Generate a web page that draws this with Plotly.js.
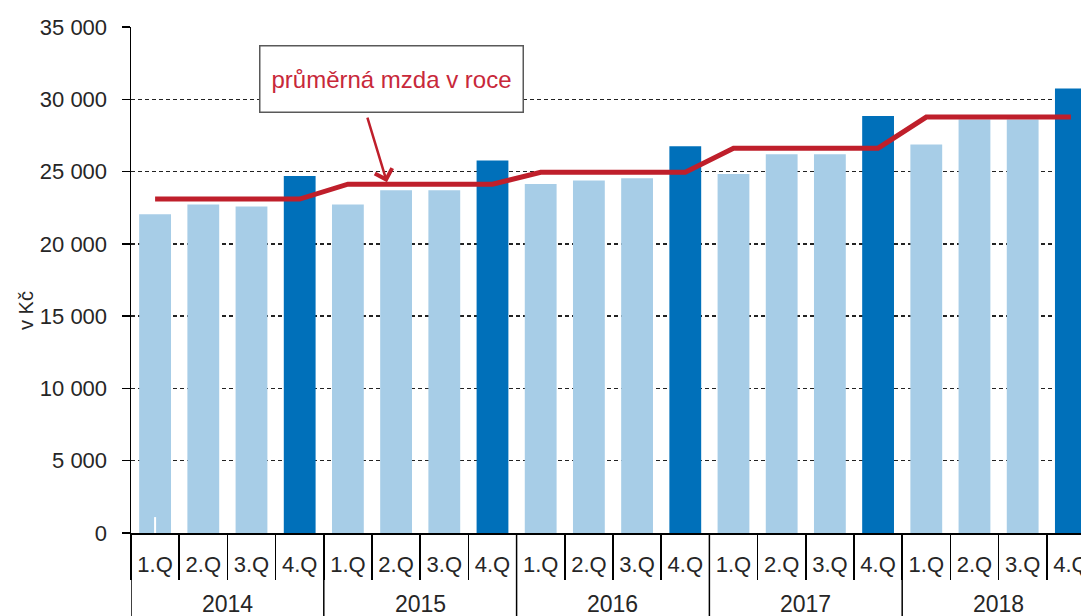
<!DOCTYPE html>
<html>
<head>
<meta charset="utf-8">
<script src="https://cdn.plot.ly/plotly-3.0.1.min.js"></script>
<style>html,body{margin:0;padding:0;background:#fff;}#chart{width:1081px;height:616px;}</style>
</head>
<body>
<div id="chart"></div>
<script>
// ---- data ----
const years = ["2014", "2015", "2016", "2017", "2018"];
const quarters = ["1.Q", "2.Q", "3.Q", "4.Q"];
const wage2014 = [22040, 22730, 22590, 24690];
const wage2015 = [22730, 23700, 23700, 25770];
const wage2016 = [24140, 24390, 24530, 26760];
const wage2017 = [24830, 26190, 26190, 28840];
const wage2018 = [26880, 28600, 28600, 30750];
const annualAvg = [23100, 24130, 24950, 26620, 28770];
const lineLabel = "průměrná mzda v roce";
const yTitle = "v Kč";

// ---- build ----
const quarterly = [wage2014, wage2015, wage2016, wage2017, wage2018];
const keys = [], qText = [], vals = [], colors = [], avgLine = [];
years.forEach((y, yi) => {
  quarters.forEach((q, qi) => {
    keys.push(y + " " + q);
    qText.push(q);
    vals.push(quarterly[yi][qi]);
    colors.push(qi === 3 ? "#0070BA" : "#A7CDE7");
    avgLine.push(annualAvg[yi]);
  });
});

const FONT = "Liberation Sans, Arial, sans-serif";
const TXT = "#262626";
const bottomPaper = -83 / 506;

const traces = [
  {
    type: "bar", x: keys, y: vals, width: 0.66,
    marker: {color: colors, line: {width: 0}},
    hoverinfo: "x+y", showlegend: false
  },
  {
    type: "scatter", mode: "lines", x: keys, y: avgLine,
    line: {color: "#BF1F2B", width: 5},
    showlegend: false
  }
];

const shapes = [];
for (let i = 0; i <= years.length; i++) {
  shapes.push({type: "line", xref: "x", yref: "paper",
    x0: i * 4 - 0.5, x1: i * 4 - 0.5, y0: 0, y1: bottomPaper,
    line: {color: "#000", width: 1.5}});
}
shapes.push({type: "line", xref: "x", yref: "y", x0: 0, x1: 0, y0: 0, y1: 1100,
  line: {color: "#fff", width: 2}});

const annotations = [];
years.forEach((y, yi) => {
  annotations.push({xref: "x", yref: "paper", x: yi * 4 + 1.5, y: (533 - 604) / 506,
    text: y, showarrow: false, yanchor: "middle",
    font: {family: FONT, size: 23, color: TXT}});
});
annotations.push({
  xref: "paper", yref: "paper", x: (26 - 131) / 950, y: (533 - 311) / 506,
  text: yTitle, showarrow: false, textangle: -90, xanchor: "center", yanchor: "middle",
  font: {family: FONT, size: 20, color: TXT}
});
annotations.push({
  xref: "x", yref: "y", x: 4.904, y: 31400, text: lineLabel, showarrow: false,
  xanchor: "center", yanchor: "middle",
  width: 262, height: 65, bgcolor: "#fff", bordercolor: "#595959", borderwidth: 1.5, borderpad: 0,
  font: {family: FONT, size: 24, color: "#C8283A"}
});
annotations.push({
  xref: "x", yref: "y", x: 4.81, y: 24270, text: "", showarrow: true,
  ax: -20, ay: -66, arrowcolor: "#BF1F2B", arrowwidth: 2.5, arrowhead: 4, arrowsize: 1.4, standoff: 0
});

const layout = {
  width: 1081, height: 616,
  margin: {l: 131, r: 0, t: 27, b: 83, pad: 0},
  paper_bgcolor: "#fff", plot_bgcolor: "#fff",
  separators: ", ",
  font: {family: FONT, size: 22, color: TXT},
  xaxis: {
    type: "category", categoryarray: keys, tickvals: keys, ticktext: qText,
    range: [-0.5, 19.21],
    tickson: "boundaries", ticks: "outside", ticklen: 45, tickwidth: 1.5, tickcolor: "#000",
    ticklabelstandoff: 11,
    showline: true, linecolor: "#000", linewidth: 1.5,
    showgrid: false, zeroline: false,
    tickfont: {family: FONT, size: 22, color: TXT}
  },
  yaxis: {
    range: [0, 35000], dtick: 5000, tick0: 0, tickformat: ",d", separatethousands: true,
    ticks: "outside", ticklen: 8, tickwidth: 1.5, tickcolor: "#000",
    ticklabelstandoff: 10,
    showline: true, linecolor: "#000", linewidth: 1.5,
    showgrid: true, gridcolor: "#222", gridwidth: 1.3, griddash: "4px,3px",
    zeroline: false,
    tickfont: {family: FONT, size: 22, color: TXT}
  },
  shapes: shapes,
  annotations: annotations
};

Plotly.newPlot("chart", traces, layout, {displayModeBar: false, staticPlot: true});
</script>
</body>
</html>
